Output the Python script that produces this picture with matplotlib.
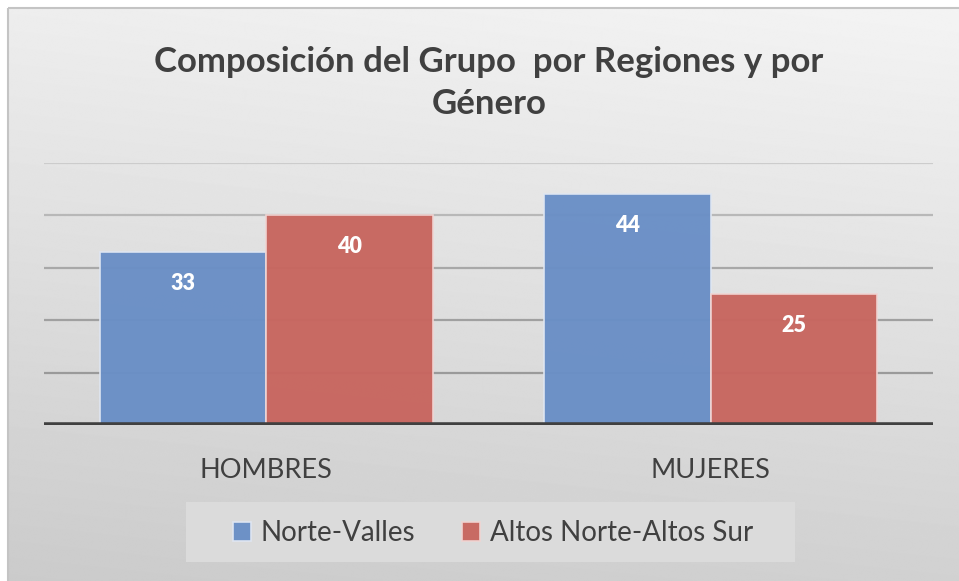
#!/usr/bin/env python3
"""
Composición del Grupo por Regiones y por Género - grouped bar chart.
"""

import numpy as np
import matplotlib
matplotlib.use('Agg')
import matplotlib.pyplot as plt
from matplotlib.patches import Rectangle

categories = ['HOMBRES', 'MUJERES']
series_names = ['Norte-Valles', 'Altos Norte-Altos Sur']
norte_valles = [33, 44]
altos_norte = [40, 25]
y_ticks = [0, 10, 20, 30, 40, 50]

title = 'Composición del Grupo  por Regiones y por\nGénero'

plt.rcParams['font.family'] = ['Lato', 'DejaVu Sans']

BLUE = '#6a8fc6'
RED = '#c8665f'
TEXT = '#404040'

fig = plt.figure(figsize=(9.59, 5.81), dpi=100)
W, H = 959, 581

# gradient background inside the chart frame
bg = fig.add_axes([0, 0, 1, 1], zorder=-10)
bg.set_xlim(0, W)
bg.set_ylim(H, 0)
bg.axis('off')
yy, xx = np.mgrid[0:H, 0:W]
t = np.clip((yy / H) * 0.85 + (1 - xx / W) * 0.15, 0, 1)
grad = 0.955 - t * 0.16
bg.imshow(grad, cmap='gray', vmin=0, vmax=1, extent=[8, W, H, 8], aspect='auto')
bg.add_patch(Rectangle((8, 8), 960, 580, fill=False, edgecolor='#c4c4c4', lw=1.5))
# legend backdrop
bg.add_patch(Rectangle((186, 502), 609, 60, facecolor='#dbdbdb', edgecolor='none'))

# plot area: x 44..933, y 163..425 (pixels)
ax = fig.add_axes([44 / W, 1 - 425 / H, (933 - 44) / W, (425 - 163) / H])
ax.patch.set_alpha(0)

x = np.arange(len(categories))
width = 0.375
b1 = ax.bar(x - width / 2, norte_valles, width, color=BLUE, alpha=0.97,
            edgecolor='#dfe6f2', linewidth=1.2, label=series_names[0], zorder=3)
b2 = ax.bar(x + width / 2, altos_norte, width, color=RED, alpha=0.97,
            edgecolor='#f0d4d2', linewidth=1.2, label=series_names[1], zorder=3)

for bars in (b1, b2):
    for rect in bars:
        h = rect.get_height()
        ax.text(rect.get_x() + rect.get_width() / 2, h - 6, f'{h:g}',
                ha='center', va='center', color='white', fontsize=15.5,
                fontweight='heavy', zorder=5)

ax.set_xlim(-0.5, 1.5)
ax.set_ylim(0, 50)
ax.set_yticks(y_ticks)
ax.yaxis.grid(True, linewidth=1.6, zorder=1)
ax.set_axisbelow(True)
grid_cols = ['#404040', '#9a9a9a', '#a0a0a0', '#a8a8a8', '#b8b8b8', '#cccccc']
for gl, c in zip(ax.yaxis.get_gridlines(), grid_cols):
    gl.set_color(c)
ax.axhline(0, color='#404040', linewidth=4, zorder=4)
ax.tick_params(axis='y', left=False, labelleft=False)
ax.tick_params(axis='x', bottom=False, pad=20)
ax.set_xticks(x)
ax.set_xticklabels(categories, fontsize=19.5, color=TEXT)
for s in ax.spines.values():
    s.set_visible(False)

fig.text(489 / W, 1 - 83 / H, title, ha='center', va='center', fontsize=25,
         fontweight='bold', color=TEXT, linespacing=1.42)

leg = fig.legend(handles=[b1, b2], labels=series_names, loc='center',
                 bbox_to_anchor=(493 / W, 1 - 533 / H), ncol=2, frameon=False,
                 fontsize=20, handlelength=0.65, handleheight=0.65,
                 handletextpad=0.35, columnspacing=1.7, labelcolor=TEXT)

fig.savefig('out.png', dpi=100)
